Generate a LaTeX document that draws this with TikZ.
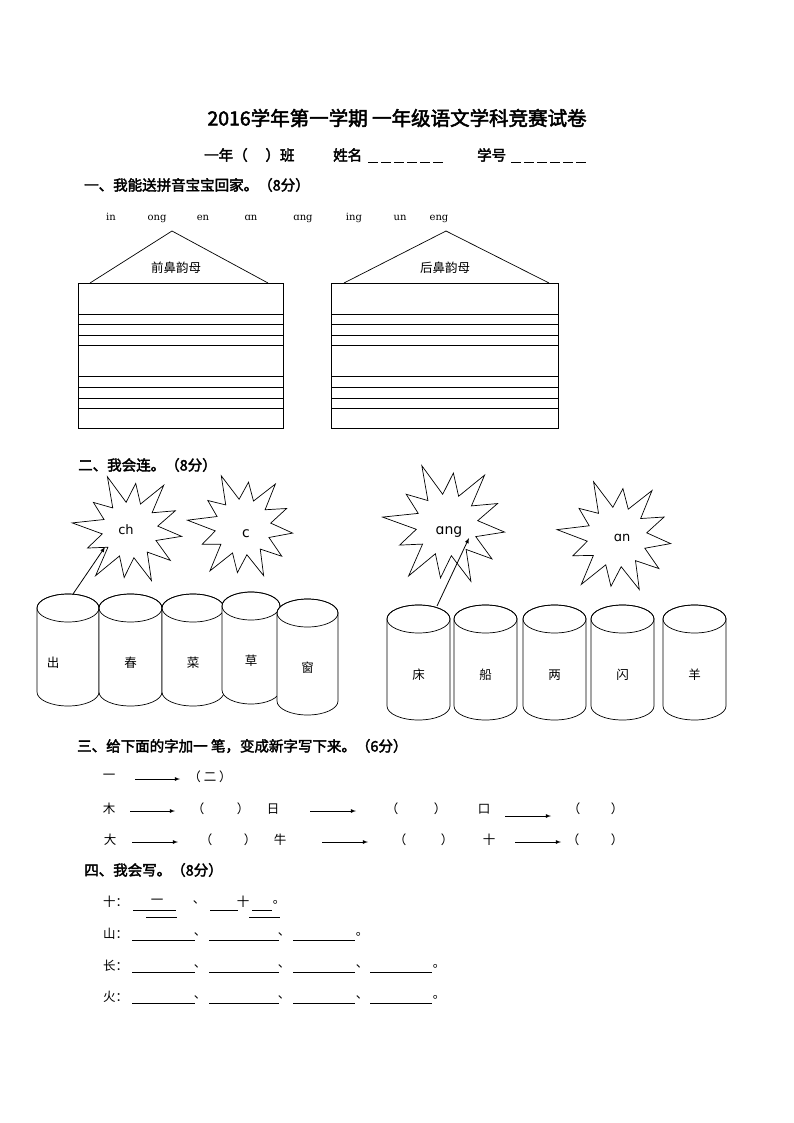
\documentclass[tikz,border=0pt]{standalone}
\usepackage{fontspec}
\setmainfont{Noto Sans CJK SC}
\newfontfamily\cjkb[FakeBold=2.5]{Noto Sans CJK SC}
\newfontfamily\pyf{DejaVu Serif}
\newfontfamily\dvs{DejaVu Sans}
\begin{document}
\begin{tikzpicture}[x=1pt,y=-1pt,
  txt/.style={inner sep=0pt,font=\fontsize{12.5}{14}\selectfont},
  head/.style={inner sep=0pt,anchor=west,font=\cjkb\fontsize{14.5}{16}\selectfont},
  py/.style={inner sep=0pt,anchor=base,font=\pyf\fontsize{10}{12}\selectfont},
  arr/.style={-latex,line width=0.8pt},
  ul/.style={line width=0.6pt},
  cylline/.style={line width=0.7pt,fill=white}]
\useasboundingbox (0,0) rectangle (794,1123);
\fill[white] (0,0) rectangle (794,1123);
% title
\node[inner sep=0pt,font=\cjkb\fontsize{19.5}{21}\selectfont] (title) at (397,118) {2016学年第一学期\ 一年级语文学科竞赛试卷};
\node[inner sep=0pt,anchor=west,font=\cjkb\fontsize{14.5}{16}\selectfont] (sub) at (204,155) {一年（\quad\ ）班};
\node[inner sep=0pt,anchor=west,font=\cjkb\fontsize{14.5}{16}\selectfont] (xm) at (333,155) {姓名};
\node[inner sep=0pt,anchor=west,font=\cjkb\fontsize{14.5}{16}\selectfont] (xh) at (477,155) {学号};
\foreach \x in {368,381,394,407,420,433,511,524,537,550,563,576}
  \draw[line width=0.9pt] (\x,162) -- (\x+10,162);
\node[head] (h1) at (84,185) {一、我能送拼音宝宝回家。（8分）};
% pinyin
\foreach \x/\t [count=\i] in {111/in,157/ong,203/en,251/{ɑn},303/{ɑng},354/ing,400/un,439/eng}
  \node[py] (p\i) at (\x,221) {\t};
% houses
\draw[line width=0.7pt] (90,283) -- (172,231) -- (268,283);
\draw[line width=0.7pt] (78,283) rectangle (283,428);
\foreach \y in {314,324,335,345,376,387,398,408} \draw[line width=0.7pt] (78,\y) -- (283,\y);
\node[txt] (l1) at (176,268) {前鼻韵母};
\draw[line width=0.7pt] (344,283) -- (446,231) -- (549,283);
\draw[line width=0.7pt] (331,283) rectangle (558,428);
\foreach \y in {314,324,335,345,376,387,398,408} \draw[line width=0.7pt] (331,\y) -- (558,\y);
\node[txt] (l2) at (445,268) {后鼻韵母};
% section 2
\node[head] (h2) at (78,465) {二、我会连。（8分）};
% stars
\newcommand\starshape[4]{% cx cy r inner
  \draw[line width=0.7pt,fill=white,shift={(#1,#2)}] (7:{#3}) \foreach \k in {1,...,23}{ -- ({\k*15+7}:{mod(\k,2)==0 ? #3*(1+0.12*sin(\k*97)) : #4}) } -- cycle;}
\starshape{130}{530}{52}{28}
\starshape{243}{527}{50}{28}
\starshape{447}{525}{58}{31}
\starshape{617}{537}{54}{30}
\node[inner sep=0pt,font=\dvs\fontsize{13}{15}\selectfont] (sch) at (126,530) {ch};
\node[inner sep=0pt,font=\dvs\fontsize{14}{15}\selectfont] (sc) at (246,534) {c};
\node[inner sep=0pt,font=\dvs\fontsize{14}{15}\selectfont] (sang) at (449,532) {ɑng};
\node[inner sep=0pt,font=\dvs\fontsize{13}{15}\selectfont] (san) at (622,538) {ɑn};
% cylinders
\newcommand\cyl[6]{% x1 x2 ytop ybot label ytext
  \pgfmathsetmacro\cx{(#1+#2)/2}\pgfmathsetmacro\rx{(#2-#1)/2}
  \draw[cylline] (#1,#3) -- (#1,#4) arc[start angle=180,end angle=0,x radius=\rx,y radius=14] -- (#2,#3) arc[start angle=0,end angle=-180,x radius=\rx,y radius=14] -- cycle;
  \draw[line width=0.7pt] (#1,#3) arc[start angle=180,end angle=540,x radius=\rx,y radius=14];
  \node[txt] at (\cx,#6) {#5};}
\cyl{37}{99}{608}{692}{\hspace*{-30pt}出}{663}
\cyl{99}{162}{608}{692}{春}{663}
\cyl{162}{224}{608}{692}{菜}{663}
\cyl{222}{280}{606}{690}{草}{661}
\cyl{277}{338}{613}{701}{窗}{668}
\coordinate (a1s) at (73,594);\coordinate (a1e) at (105,547);
\draw[arr] (a1s) -- (a1e);
\cyl{387}{450}{619}{706}{床}{675}
\cyl{454}{517}{619}{706}{船}{675}
\cyl{523}{586}{619}{706}{两}{675}
\cyl{591}{654}{619}{706}{闪}{675}
\cyl{663}{726}{619}{706}{羊}{675}
\coordinate (a2s) at (437,606);\coordinate (a2e) at (469,538);
\draw[arr] (a2s) -- (a2e);
% section 3
\node[head] (h3) at (77,746) {三、给下面的字加一\ 笔，变成新字写下来。（6分）};
\node[txt] (c1) at (109,777) {一};
\coordinate (s1) at (135,779);\coordinate (e1) at (180,779);\draw[arr] (s1)--(e1);
\node[txt] (b1) at (210,777) {（ 二 ）};
\node[txt] (c2) at (109,809) {木};
\coordinate (s2) at (130,811);\coordinate (e2) at (175,811);\draw[arr] (s2)--(e2);
\node[txt] at (198,809) {（};\node[txt] at (243,809) {）};
\node[txt] at (273,809) {日};
\coordinate (s3) at (310,811);\coordinate (e3) at (356,811);\draw[arr] (s3)--(e3);
\node[txt] at (392,809) {（};\node[txt] at (440,809) {）};
\node[txt] at (484,809) {口};
\coordinate (s4) at (505,816);\coordinate (e4) at (551,816);\draw[arr] (s4)--(e4);
\node[txt] at (574,809) {（};\node[txt] at (617,809) {）};
\node[txt] at (110,840) {大};
\coordinate (s5) at (132,842);\coordinate (e5) at (178,842);\draw[arr] (s5)--(e5);
\node[txt] at (206,840) {（};\node[txt] at (250,840) {）};
\node[txt] at (280,840) {牛};
\coordinate (s6) at (322,842);\coordinate (e6) at (368,842);\draw[arr] (s6)--(e6);
\node[txt] at (400,840) {（};\node[txt] at (447,840) {）};
\node[txt] at (489,840) {十};
\coordinate (s7) at (515,842);\coordinate (e7) at (561,842);\draw[arr] (s7)--(e7);
\node[txt] at (573,840) {（};\node[txt] at (617,840) {）};
% section 4
\node[head] (h4) at (84,870) {四、我会写。（8分）};
\node[txt,anchor=west] (r1) at (103,902) {十：};
\draw[ul] (133,910) -- (162,910); \node[txt] at (157,902) {一};\draw[ul] (161,910)--(176,910);
\draw[ul] (146,917) -- (177,917);
\node[txt] at (199,902) {、};
\draw[ul] (210,910) -- (238,910); \node[txt] at (243,902) {十};\draw[ul] (252,910)--(272,910);
\draw[ul] (249,917) -- (280,917);\node[txt] at (279,902) {。};
\node[txt,anchor=west] (r2) at (103,934) {山：};
\draw[ul] (132,940)--(195,940);\node[txt] at (200,934){、};
\draw[ul] (209,940)--(279,940);\node[txt] at (284,934){、};
\draw[ul] (293,940)--(355,940);\node[txt] at (362,934){。};
\foreach \y/\c in {966/长,997/火}{
\node[txt,anchor=west] at (103,\y) {\c：};
\draw[ul] (132,\y+6)--(195,\y+6);\node[txt] at (200,\y){、};
\draw[ul] (209,\y+6)--(279,\y+6);\node[txt] at (284,\y){、};
\draw[ul] (293,\y+6)--(355,\y+6);\node[txt] at (362,\y){、};
\draw[ul] (370,\y+6)--(432,\y+6);\node[txt] at (439,\y){。};}
\end{tikzpicture}
\end{document}
